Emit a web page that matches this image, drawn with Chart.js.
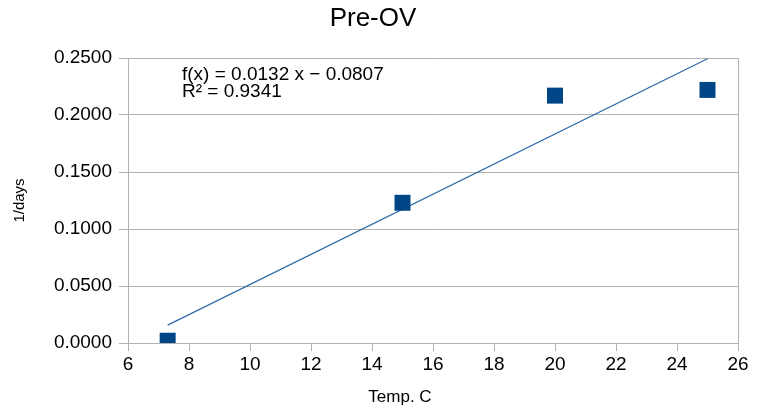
<!DOCTYPE html>
<html>
<head>
<meta charset="utf-8">
<script src="https://cdn.jsdelivr.net/npm/chart.js@4.4.1/dist/chart.umd.min.js"></script>
<style>
html,body{margin:0;padding:0;background:#fff;}
#wrap{width:762px;height:410px;}
</style>
</head>
<body>
<div id="wrap"><canvas id="c" width="762" height="410"></canvas></div>
<script>
const chartTitle = 'Pre-OV';
const xTitle = 'Temp. C';
const yTitle = '1/days';
const tempC = [7.3, 15, 20, 25];
const rate = [0.002, 0.123, 0.217, 0.222];
const trendSlope = 0.0132;
const trendIntercept = -0.0807;
const trendText = ['f(x) = 0.0132 x \u2212 0.0807', 'R\u00B2 = 0.9341'];
const xTicks = [6, 8, 10, 12, 14, 16, 18, 20, 22, 24, 26];
const yTicks = [0, 0.05, 0.1, 0.15, 0.2, 0.25];

const FONT = "'Liberation Sans', Arial, sans-serif";
const xMinData = Math.min(...tempC), xMaxData = Math.max(...tempC);
const trendPts = [xMinData, xMaxData].map(x => ({x, y: trendSlope * x + trendIntercept}));

const framePlugin = {
  id: 'frame',
  afterDraw(chart) {
    const {ctx, chartArea: a} = chart;
    ctx.save();
    ctx.strokeStyle = '#b3b3b3';
    ctx.lineWidth = 1;
    ctx.beginPath();
    ctx.moveTo(Math.round(a.right) + 0.5, a.top);
    ctx.lineTo(Math.round(a.right) + 0.5, a.bottom);
    ctx.stroke();
    ctx.fillStyle = '#000';
    ctx.font = '19px ' + FONT;
    ctx.textBaseline = 'alphabetic';
    ctx.textAlign = 'left';
    ctx.fillText(trendText[0], a.left + 54, a.top + 22);
    ctx.fillText(trendText[1], a.left + 54, a.top + 39);
    // chart title
    ctx.font = '26px ' + FONT;
    ctx.textAlign = 'center';
    ctx.textBaseline = 'middle';
    ctx.fillText(chartTitle, 373, 19);
    // x axis title
    ctx.font = '17px ' + FONT;
    ctx.fillText(xTitle, 400, chart.height - 13);
    ctx.restore();
  }
};

new Chart(document.getElementById('c'), {
  type: 'scatter',
  data: {
    datasets: [
      {
        label: 'data',
        data: tempC.map((x, i) => ({x, y: rate[i]})),
        pointStyle: 'rect',
        pointRadius: 11.3,
        pointHoverRadius: 11.3,
        backgroundColor: '#004586',
        borderColor: '#004586',
        borderWidth: 0,
        order: 1
      },
      {
        label: 'trend',
        type: 'line',
        data: trendPts,
        borderColor: '#2a6aa8',
        borderWidth: 1.2,
        pointRadius: 0,
        fill: false,
        order: 2
      }
    ]
  },
  options: {
    responsive: false,
    animation: false,
    events: [],
    layout: {padding: {left: 0, right: 24, top: 58, bottom: 0}},
    plugins: {
      legend: {display: false},
      tooltip: {enabled: false},
      title: {display: false}
    },
    scales: {
      x: {
        type: 'linear',
        min: 6, max: 26,
        afterBuildTicks(s) { s.ticks = xTicks.map(v => ({value: v})); },
        afterFit(s) { s.height = 67; },
        ticks: {
          color: '#000',
          font: {family: FONT, size: 19},
          padding: 2,
          maxRotation: 0,
          callback: v => String(v)
        },
        grid: {drawOnChartArea: false, drawTicks: true, tickLength: 8, color: '#b3b3b3'},
        border: {display: true, color: '#b3b3b3'},
        title: {display: false}
      },
      y: {
        type: 'linear',
        min: 0, max: 0.25,
        afterBuildTicks(s) { s.ticks = yTicks.map(v => ({value: v})); },
        afterFit(s) { s.width = 128; },
        ticks: {
          color: '#000',
          font: {family: FONT, size: 19},
          padding: 7,
          callback: v => Number(v).toFixed(4)
        },
        grid: {drawOnChartArea: true, drawTicks: true, tickLength: 9, color: '#b3b3b3'},
        border: {display: true, color: '#b3b3b3'},
        title: {display: true, text: yTitle, color: '#000', font: {family: FONT, size: 15}, padding: {top: 11, bottom: 0}}
      }
    }
  },
  plugins: [framePlugin]
});
</script>
</body>
</html>
